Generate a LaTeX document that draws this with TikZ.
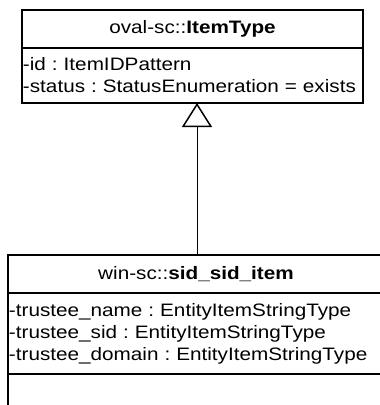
\documentclass[tikz,border=0pt]{standalone}
\usepackage{fontspec}
\setmainfont{Liberation Sans}[FakeStretch=1.15]
\usetikzlibrary{positioning,arrows.meta}
\frenchspacing

\begin{document}
\begin{tikzpicture}[x=1pt, y=1pt,
    classbox/.style={draw, line width=1.6pt, inner sep=1pt, outer sep=0pt, font=\fontsize{18}{22}\selectfont},
    classtitle/.style={classbox, minimum height=38pt, align=center},
    classattr/.style={classbox, align=left, anchor=north},
    inherit/.style={line width=1pt, -{Triangle[open, length=24pt, width=30pt, line width=1.5pt]}}]
    \useasboundingbox (0,0) rectangle (380,-405);

    % base class
    \node[classtitle, minimum width=341pt, anchor=north west] (itemtitle) at (22,-10) {oval-sc::\textbf{ItemType}};
    \node[classattr, text width=339pt, minimum height=55pt, below=0pt of itemtitle] (itemattr)
        {-id : ItemIDPattern\\-status : StatusEnumeration = exists};

    % derived class
    \node[classtitle, minimum width=376pt, anchor=north west] (sidtitle) at (8,-255) {win-sc::\textbf{sid\_sid\_item}};
    \node[classattr, text width=374pt, minimum height=81pt, below=0pt of sidtitle] (sidattr)
        {-trustee\_name : EntityItemStringType\\-trustee\_sid : EntityItemStringType\\-trustee\_domain : EntityItemStringType};
    \node[classbox, minimum width=376pt, minimum height=40pt, below=0pt of sidattr] (sidops) {};

    % generalization
    \coordinate (apex) at (197,0);
    \draw[inherit] (sidtitle.north -| apex) -- (itemattr.south -| apex);
\end{tikzpicture}
\end{document}
